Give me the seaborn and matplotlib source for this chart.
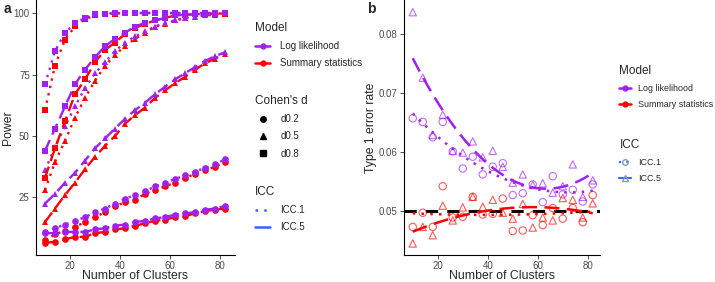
import numpy as np
import pandas as pd
import seaborn as sns
import matplotlib.pyplot as plt
from matplotlib.lines import Line2D

''' data '''
clusters = [10, 14, 18, 22, 26, 30, 34, 38, 42, 46, 50, 54, 58, 62, 66, 70, 74, 78, 82]

# panel a : power (%)
ll_d08_icc1 = [71, 84.5, 92, 95.8, 98, 99.5, 99.8, 100, 100, 100, 100, 100, 100, 100, 100, 100, 100, 100, 100]
ss_d08_icc1 = [60.5, 78.6, 89.2, 94.6, 97.5, 99, 99.6, 99.8, 100, 100, 100, 100, 100, 100, 100, 100, 100, 100, 100]
ll_d08_icc5 = [44, 53, 62, 71, 77, 82, 86.5, 89.5, 92, 94.5, 96, 97, 98, 99, 99.3, 99.5, 99.7, 99.8, 100]
ss_d08_icc5 = [33, 45, 56, 67, 73, 80, 85, 88, 91.5, 94, 95.5, 97, 98, 99, 99.3, 99.5, 99.6, 99.8, 99.8]
ll_d05_icc1 = [36, 45.5, 54, 62, 69.5, 75.5, 80, 84.5, 88, 90.5, 92.5, 94.5, 96, 97, 98, 98.5, 99, 99.5, 99.7]
ss_d05_icc1 = [28, 39.5, 48, 57.5, 65.5, 72.5, 78.5, 83, 86.5, 89.5, 92, 94.5, 95.5, 97, 98, 98.5, 99, 99.3, 99.5]
ll_d05_icc5 = [22.5, 26.5, 31, 35, 40, 45, 49, 53, 57, 60.5, 63.5, 67, 70, 73, 75.5, 78, 80.5, 82.5, 84]
ss_d05_icc5 = [15, 20.5, 26, 31, 36.5, 41.5, 46, 50, 55, 58.5, 61.5, 65.5, 68.5, 71.5, 74, 77, 79.5, 81.5, 83.5]
ll_d02_icc1 = [11, 12.5, 14, 15.5, 17, 19, 20.5, 22.5, 24.5, 26, 27.5, 29.5, 31, 32.5, 34, 35.5, 37, 38.5, 40.5]
ss_d02_icc1 = [7.5, 10, 11.5, 13, 15, 17, 19, 21.5, 23, 24, 26.5, 28, 29.5, 31, 33, 34.5, 36, 37.5, 39.5]
ll_d02_icc5 = [10.5, 10.5, 11, 11, 11, 12, 12.5, 13.5, 14, 15, 15.5, 16.5, 17, 18, 18.5, 19, 20, 20.5, 21.5]
ss_d02_icc5 = [6.5, 7, 8, 9, 9, 10.5, 11, 12, 12.5, 13.5, 14.5, 15.5, 16, 17, 17.5, 18.5, 19.5, 20, 20.5]

# panel b : type 1 error rate
ll_icc1_err = [0.0657, 0.0651, 0.0625, 0.0651, 0.0601, 0.0572, 0.0592, 0.0562, 0.0575, 0.0581,
               0.0527, 0.0530, 0.0545, 0.0515, 0.0559, 0.0528, 0.0536, 0.0516, 0.0545]
ll_icc5_err = [0.0837, 0.0726, 0.0629, 0.0663, 0.0602, 0.0599, 0.0618, 0.0591, 0.0602, 0.0575,
               0.0548, 0.0562, 0.0544, 0.0547, 0.0531, 0.0542, 0.0579, 0.0524, 0.0552]
ss_icc1_err = [0.0473, 0.0497, 0.0473, 0.0542, 0.0489, 0.0490, 0.0524, 0.0494, 0.0495, 0.0521,
               0.0466, 0.0467, 0.0493, 0.0476, 0.0505, 0.0487, 0.0505, 0.0481, 0.0527]
ss_icc5_err = [0.0445, 0.0473, 0.0459, 0.0509, 0.0484, 0.0506, 0.0524, 0.0507, 0.0519, 0.0497,
               0.0487, 0.0512, 0.0472, 0.0489, 0.0484, 0.0522, 0.0519, 0.0489, 0.0513]

models = ['Log likelihood', 'Summary statistics']
d_levels = ['d0.2', 'd0.5', 'd0.8']
icc_levels = ['ICC.1', 'ICC.5']

''' long tables '''
power = {
    ('Log likelihood', 'd0.8', 'ICC.1'): ll_d08_icc1, ('Summary statistics', 'd0.8', 'ICC.1'): ss_d08_icc1,
    ('Log likelihood', 'd0.8', 'ICC.5'): ll_d08_icc5, ('Summary statistics', 'd0.8', 'ICC.5'): ss_d08_icc5,
    ('Log likelihood', 'd0.5', 'ICC.1'): ll_d05_icc1, ('Summary statistics', 'd0.5', 'ICC.1'): ss_d05_icc1,
    ('Log likelihood', 'd0.5', 'ICC.5'): ll_d05_icc5, ('Summary statistics', 'd0.5', 'ICC.5'): ss_d05_icc5,
    ('Log likelihood', 'd0.2', 'ICC.1'): ll_d02_icc1, ('Summary statistics', 'd0.2', 'ICC.1'): ss_d02_icc1,
    ('Log likelihood', 'd0.2', 'ICC.5'): ll_d02_icc5, ('Summary statistics', 'd0.2', 'ICC.5'): ss_d02_icc5,
}
rows = []
for (m, d, icc), vals in power.items():
    for c, v in zip(clusters, vals):
        rows.append(dict(clusters=c, power=v, model=m, d=d, icc=icc))
df_a = pd.DataFrame(rows)

err = {
    ('Log likelihood', 'ICC.1'): ll_icc1_err, ('Log likelihood', 'ICC.5'): ll_icc5_err,
    ('Summary statistics', 'ICC.1'): ss_icc1_err, ('Summary statistics', 'ICC.5'): ss_icc5_err,
}
rows = []
for (m, icc), vals in err.items():
    for c, v in zip(clusters, vals):
        rows.append(dict(clusters=c, rate=v, model=m, icc=icc))
df_b = pd.DataFrame(rows)

''' style '''
sns.set_style('ticks')
plt.rcParams['font.family'] = ['Liberation Sans', 'DejaVu Sans']
pal = {'Log likelihood': '#A020F0', 'Summary statistics': '#FF0000'}
icc_blue = '#3366FF'
grey = '#4D4D4D'

fig = plt.figure(figsize=(7.15, 2.82), dpi=100)
ax_a = fig.add_axes([36 / 715, 27 / 282, 199 / 715, 255 / 282])
ax_b = fig.add_axes([404 / 715, 27 / 282, 196 / 715, 255 / 282])

''' panel a '''
dash_a = {'ICC.1': (1, 2.2), 'ICC.5': (5, 2.5)}
for icc in icc_levels:
    sub = df_a[df_a.icc == icc]
    sns.lineplot(data=sub, x='clusters', y='power', hue='model', style='d',
                 hue_order=['Summary statistics', 'Log likelihood'], palette=pal,
                 markers={'d0.2': 'o', 'd0.5': '^', 'd0.8': 's'},
                 dashes={k: dash_a[icc] for k in d_levels},
                 markersize=4.8, markeredgewidth=0, lw=1.7, errorbar=None,
                 legend=False, ax=ax_a)
ax_a.set_xlim(6.4, 86)
ax_a.set_ylim(1.6, 105.3)
ax_a.set_xticks([20, 40, 60, 80])
ax_a.set_yticks([25, 50, 75, 100])
ax_a.set_xlabel('Number of Clusters', fontsize=8.8)
ax_a.set_ylabel('Power', fontsize=8.8)
ax_a.xaxis.set_label_coords(0.5, -0.058)
ax_a.yaxis.set_label_coords(-0.11, 0.5)

''' panel b '''
ax_b.axhline(0.05, color='black', ls=(0, (4, 3)), lw=2.2, zorder=1)
sns.scatterplot(data=df_b, x='clusters', y='rate', hue='model', style='icc',
                palette=pal, markers={'ICC.1': 'o', 'ICC.5': '^'}, s=28,
                legend=False, ax=ax_b, zorder=2)
coll = ax_b.collections[-1]
fc = coll.get_facecolors()
fc[:, 3] = 0.65
coll.set_edgecolors(fc)
coll.set_facecolors('none')
coll.set_linewidths(0.8)

dash_b = {'ICC.1': (0, (1, 2.5)), 'ICC.5': (0, (6, 3))}
for m in models:
    for icc in icc_levels:
        sub = df_b[(df_b.model == m) & (df_b.icc == icc)]
        sns.regplot(data=sub, x='clusters', y='rate', order=2, scatter=False, ci=None,
                    color=pal[m], line_kws=dict(ls=dash_b[icc], lw=1.8, zorder=3), ax=ax_b)
ax_b.set_xlim(6.5, 84.9)
ax_b.set_ylim(0.04254, 0.08576)
ax_b.set_xticks([20, 40, 60, 80])
ax_b.set_yticks([0.05, 0.06, 0.07, 0.08])
ax_b.set_xlabel('Number of Clusters', fontsize=8.8)
ax_b.set_ylabel('Type 1 error rate', fontsize=8.8)
ax_b.xaxis.set_label_coords(0.5, -0.058)
ax_b.yaxis.set_label_coords(-0.138, 0.5)

for ax in (ax_a, ax_b):
    sns.despine(ax=ax)
    ax.tick_params(labelsize=7, colors=grey, length=3, width=0.7, labelcolor=grey, pad=1.5)
    for sp in ('left', 'bottom'):
        ax.spines[sp].set_linewidth(0.8)
        ax.spines[sp].set_color('black')

fig.text(4 / 715, 1 - 9 / 282, 'a', fontsize=10, fontweight='bold', va='center')
fig.text(367 / 715, 1 - 9 / 282, 'b', fontsize=10, fontweight='bold', va='center')

''' legends '''
def add_leg(handles, labels, title, x, y, fs=7, hl=1.6, pad=1.0):
    leg = fig.legend(handles, labels, title=title, loc='upper left',
                     bbox_to_anchor=(x / 715, 1 - y / 282), frameon=False,
                     fontsize=fs, title_fontsize=8.5, handlelength=hl,
                     handletextpad=pad, labelspacing=0.75, borderpad=0,
                     alignment='left')
    return leg

model_h = [Line2D([], [], color=pal[m], marker='o', ms=3.5, lw=1.8) for m in models]
d_h = [Line2D([], [], color='black', marker=mk, ms=4, lw=0) for mk in ('o', '^', 's')]
icc_h = [Line2D([], [], color=icc_blue, ls=(0, (1, 2.5)), lw=1.8),
         Line2D([], [], color=icc_blue, lw=1.8)]
icc_hb = [Line2D([], [], color=icc_blue, ls=(0, (1, 2.5)), lw=1.5, marker='o', ms=4,
                 mfc='none', mec='#8899BB'),
          Line2D([], [], color=icc_blue, lw=1.5, marker='^', ms=4, mfc='none', mec='#8899BB')]

add_leg(model_h, models, 'Model', 250, 17)
add_leg(d_h, d_levels, "Cohen's d", 250, 90)
add_leg(icc_h, icc_levels, 'ICC', 250, 181)
add_leg(model_h, models, 'Model', 615, 61, fs=6.4, hl=1.3, pad=0.8)
add_leg(icc_hb, icc_levels, 'ICC', 615, 135, fs=6.4, hl=1.3, pad=0.8)

fig.savefig('out.png', dpi=100)
